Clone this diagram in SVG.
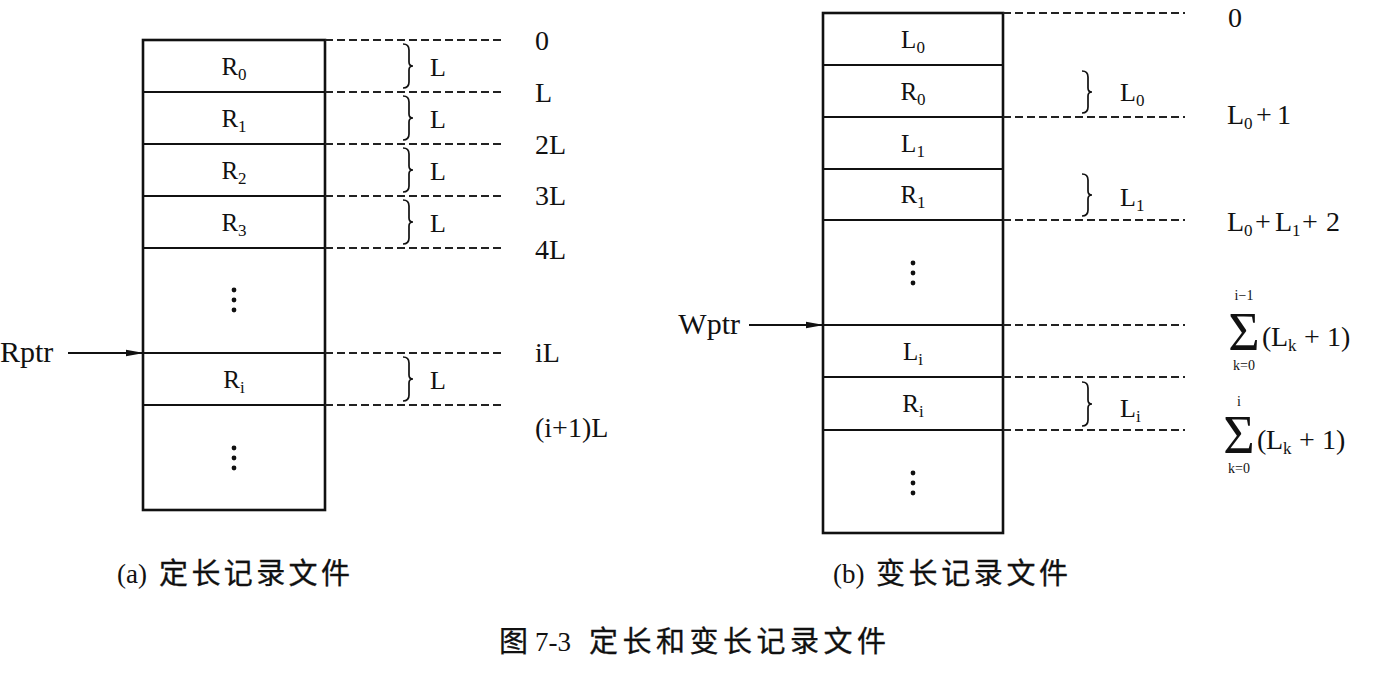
<svg xmlns="http://www.w3.org/2000/svg" width="1375" height="677" viewBox="0 0 1375 677">
<defs>
<style>
.box{fill:none;stroke:#111;stroke-width:2.6}
.row{stroke:#111;stroke-width:2}
.dash{stroke:#222;stroke-width:1.8;stroke-dasharray:8 4;fill:none}
.brace{fill:none;stroke:#111;stroke-width:1.7}
.t{font-family:"Liberation Serif","DejaVu Serif",serif;fill:#111}
.cell{font-size:25px;text-anchor:middle}
.lab{font-size:28px}
.bl{font-size:26px}
.sub{font-size:17px}
.lim{font-size:14px;text-anchor:middle}
.cjk{font-family:"Noto Sans CJK SC",sans-serif;font-size:29px;fill:#111;stroke:#111;stroke-width:0.3}
.arrow{stroke:#111;stroke-width:2.2;fill:none}
.dot{fill:#111}
</style>
<marker id="ah" markerWidth="18" markerHeight="10" refX="17" refY="5" orient="auto" markerUnits="userSpaceOnUse">
<path d="M0,1.8 L18,5 L0,8.2 Z" fill="#111"/>
</marker>
</defs>
<rect width="1375" height="677" fill="#fff"/>

<!-- (a) fixed-length records -->
<g id="file-a">
<rect class="box" x="143" y="40" width="182" height="470"/>
<g id="a-R0"><line class="row" x1="143" y1="92" x2="325" y2="92"/><text class="t cell" x="234" y="75">R<tspan class="sub" dy="5">0</tspan></text></g>
<g id="a-R1"><line class="row" x1="143" y1="144" x2="325" y2="144"/><text class="t cell" x="234" y="127">R<tspan class="sub" dy="5">1</tspan></text></g>
<g id="a-R2"><line class="row" x1="143" y1="196" x2="325" y2="196"/><text class="t cell" x="234" y="179">R<tspan class="sub" dy="5">2</tspan></text></g>
<g id="a-R3"><line class="row" x1="143" y1="248" x2="325" y2="248"/><text class="t cell" x="234" y="231">R<tspan class="sub" dy="5">3</tspan></text></g>
<g id="a-dots1"><circle class="dot" cx="234" cy="290" r="2.4"/><circle class="dot" cx="234" cy="300" r="2.4"/><circle class="dot" cx="234" cy="310" r="2.4"/></g>
<g id="a-Ri"><line class="row" x1="143" y1="353" x2="325" y2="353"/><line class="row" x1="143" y1="405" x2="325" y2="405"/><text class="t cell" x="234" y="388">R<tspan class="sub" dy="5">i</tspan></text></g>
<g id="a-dots2"><circle class="dot" cx="234" cy="448" r="2.4"/><circle class="dot" cx="234" cy="458" r="2.4"/><circle class="dot" cx="234" cy="468" r="2.4"/></g>
</g>

<g id="a-rptr">
<text class="t" x="0" y="362" font-size="30">Rptr</text>
</g>

<g id="a-offsets">
<text class="t lab" x="535" y="50">0</text>
<text class="t lab" x="535" y="102">L</text>
<text class="t lab" x="535" y="154">2L</text>
<text class="t lab" x="535" y="205">3L</text>
<text class="t lab" x="535" y="259">4L</text>
<text class="t lab" x="535" y="362">iL</text>
<text class="t lab" x="535" y="437" font-size="29">(i+1)L</text>
</g>

<g id="a-braces">
<path class="brace" d="M403,44 Q409,44 409,50 L409,62 Q409,66 413,66 Q409,66 409,70 L409,82 Q409,88 403,88"/>
<path class="brace" d="M403,96 Q409,96 409,102 L409,114 Q409,118 413,118 Q409,118 409,122 L409,134 Q409,140 403,140"/>
<path class="brace" d="M403,148 Q409,148 409,154 L409,166 Q409,170 413,170 Q409,170 409,174 L409,186 Q409,192 403,192"/>
<path class="brace" d="M403,200 Q409,200 409,206 L409,218 Q409,222 413,222 Q409,222 409,226 L409,238 Q409,244 403,244"/>
<path class="brace" d="M403,357 Q409,357 409,363 L409,375 Q409,379 413,379 Q409,379 409,383 L409,395 Q409,401 403,401"/>
<text class="t bl" x="430" y="76">L</text>
<text class="t bl" x="430" y="128">L</text>
<text class="t bl" x="430" y="180">L</text>
<text class="t bl" x="430" y="232">L</text>
<text class="t bl" x="430" y="389">L</text>
</g>

<!-- (b) variable-length records -->
<g id="file-b">
<rect class="box" x="823" y="13" width="180" height="520"/>
<g id="b-L0"><line class="row" x1="823" y1="65" x2="1003" y2="65"/><text class="t cell" x="913" y="48">L<tspan class="sub" dy="5">0</tspan></text></g>
<g id="b-R0"><line class="row" x1="823" y1="117" x2="1003" y2="117"/><text class="t cell" x="913" y="100">R<tspan class="sub" dy="5">0</tspan></text></g>
<g id="b-L1"><line class="row" x1="823" y1="169" x2="1003" y2="169"/><text class="t cell" x="913" y="152">L<tspan class="sub" dy="5">1</tspan></text></g>
<g id="b-R1"><line class="row" x1="823" y1="220" x2="1003" y2="220"/><text class="t cell" x="913" y="203">R<tspan class="sub" dy="5">1</tspan></text></g>
<g id="b-dots1"><circle class="dot" cx="913" cy="263" r="2.4"/><circle class="dot" cx="913" cy="273" r="2.4"/><circle class="dot" cx="913" cy="283" r="2.4"/></g>
<g id="b-Li"><line class="row" x1="823" y1="325" x2="1003" y2="325"/><text class="t cell" x="913" y="360">L<tspan class="sub" dy="5">i</tspan></text></g>
<g id="b-Ri"><line class="row" x1="823" y1="377" x2="1003" y2="377"/><line class="row" x1="823" y1="430" x2="1003" y2="430"/><text class="t cell" x="913" y="412">R<tspan class="sub" dy="5">i</tspan></text></g>
<g id="b-dots2"><circle class="dot" cx="913" cy="473" r="2.4"/><circle class="dot" cx="913" cy="483" r="2.4"/><circle class="dot" cx="913" cy="493" r="2.4"/></g>
</g>

<g id="b-wptr">
<text class="t" x="740" y="334" font-size="30" text-anchor="end">Wptr</text>
</g>

<g id="b-braces">
<path class="brace" d="M1082,71 Q1088,71 1088,77 L1088,88 Q1088,92 1092,92 Q1088,92 1088,96 L1088,107 Q1088,113 1082,113"/>
<path class="brace" d="M1082,174 Q1088,174 1088,180 L1088,191 Q1088,195 1092,195 Q1088,195 1088,199 L1088,210 Q1088,216 1082,216"/>
<path class="brace" d="M1082,382 Q1088,382 1088,388 L1088,400 Q1088,404 1092,404 Q1088,404 1088,408 L1088,420 Q1088,426 1082,426"/>
<text class="t bl" x="1120" y="101">L<tspan class="sub" dy="5">0</tspan></text>
<text class="t bl" x="1120" y="206">L<tspan class="sub" dy="5">1</tspan></text>
<text class="t bl" x="1120" y="417">L<tspan class="sub" dy="5">i</tspan></text>
</g>

<g id="b-offsets">
<text class="t lab" x="1228" y="27">0</text>
<text class="t lab" y="124"><tspan x="1227">L</tspan><tspan class="sub" x="1244" dy="5">0</tspan><tspan x="1256" dy="-5">+</tspan><tspan x="1277">1</tspan></text>
<text class="t lab" y="231"><tspan x="1227">L</tspan><tspan class="sub" x="1244" dy="5">0</tspan><tspan x="1255" dy="-5">+</tspan><tspan x="1275">L</tspan><tspan class="sub" x="1292" dy="5">1</tspan><tspan x="1302" dy="-5">+</tspan><tspan x="1326">2</tspan></text>
<g id="sum1">
<text class="t" x="1244" y="350" font-size="54" text-anchor="middle">Σ</text>
<text class="t lim" x="1244" y="300">i−1</text>
<text class="t lim" x="1244" y="370">k=0</text>
<text class="t" y="346" font-size="28"><tspan x="1262">(</tspan><tspan x="1271">L</tspan><tspan class="sub" x="1288" dy="5">k</tspan><tspan x="1304" dy="-5">+</tspan><tspan x="1327">1</tspan><tspan x="1341">)</tspan></text>
</g>
<g id="sum2">
<text class="t" x="1239" y="453" font-size="54" text-anchor="middle">Σ</text>
<text class="t lim" x="1239" y="406">i</text>
<text class="t lim" x="1239" y="473">k=0</text>
<text class="t" y="449" font-size="28"><tspan x="1257">(</tspan><tspan x="1266">L</tspan><tspan class="sub" x="1283" dy="5">k</tspan><tspan x="1299" dy="-5">+</tspan><tspan x="1322">1</tspan><tspan x="1336">)</tspan></text>
</g>
</g>

<g id="connectors">
<line class="arrow" x1="68" y1="353" x2="143" y2="353" marker-end="url(#ah)"/>
<line class="arrow" x1="749" y1="325" x2="823" y2="325" marker-end="url(#ah)"/>
<line class="dash" x1="325" y1="40" x2="503" y2="40"/>
<line class="dash" x1="325" y1="92" x2="503" y2="92"/>
<line class="dash" x1="325" y1="144" x2="503" y2="144"/>
<line class="dash" x1="325" y1="196" x2="503" y2="196"/>
<line class="dash" x1="325" y1="248" x2="503" y2="248"/>
<line class="dash" x1="325" y1="353" x2="503" y2="353"/>
<line class="dash" x1="325" y1="405" x2="503" y2="405"/>
<line class="dash" x1="1003" y1="13" x2="1185" y2="13"/>
<line class="dash" x1="1003" y1="117" x2="1185" y2="117"/>
<line class="dash" x1="1003" y1="220" x2="1185" y2="220"/>
<line class="dash" x1="1003" y1="325" x2="1185" y2="325"/>
<line class="dash" x1="1003" y1="377" x2="1185" y2="377"/>
<line class="dash" x1="1003" y1="430" x2="1185" y2="430"/>
</g>

<g id="captions">
<text class="t" x="117" y="583" font-size="27">(a)</text>
<text class="cjk" x="159" y="584" textLength="191" lengthAdjust="spacing">定长记录文件</text>
<text class="t" x="833" y="583" font-size="27">(b)</text>
<text class="cjk" x="876" y="584" textLength="192" lengthAdjust="spacing">变长记录文件</text>
<text class="cjk" x="499" y="652">图</text>
<text class="t" x="535" y="651" font-size="27">7-3</text>
<text class="cjk" x="589" y="652" textLength="297" lengthAdjust="spacing">定长和变长记录文件</text>
</g>
</svg>
